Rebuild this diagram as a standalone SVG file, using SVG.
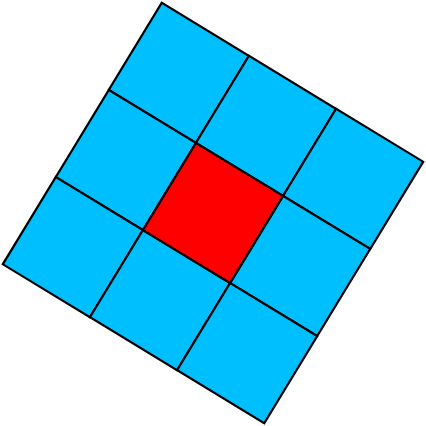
<svg xmlns="http://www.w3.org/2000/svg" width="426" height="426" viewBox="0 0 426 426">
<style>
.c{fill:#00bfff;stroke:#000;stroke-width:2.2;stroke-linejoin:miter}
.r{fill:#ff0000;stroke:#000;stroke-width:2.2}
</style>
<rect width="426" height="426" fill="#fff"/>
<g transform="translate(213,213) rotate(31.3)">
<g id="c00"><rect class="c" x="-153" y="-153" width="102" height="102"/></g>
<g id="c01"><rect class="c" x="-51" y="-153" width="102" height="102"/></g>
<g id="c02"><rect class="c" x="51" y="-153" width="102" height="102"/></g>
<g id="c10"><rect class="c" x="-153" y="-51" width="102" height="102"/></g>
<g id="c12"><rect class="c" x="51" y="-51" width="102" height="102"/></g>
<g id="c20"><rect class="c" x="-153" y="51" width="102" height="102"/></g>
<g id="c21"><rect class="c" x="-51" y="51" width="102" height="102"/></g>
<g id="c22"><rect class="c" x="51" y="51" width="102" height="102"/></g>
<g id="c11"><rect class="r" x="-51" y="-51" width="102" height="102"/></g>
</g>
<g id="connectors"/>
</svg>
